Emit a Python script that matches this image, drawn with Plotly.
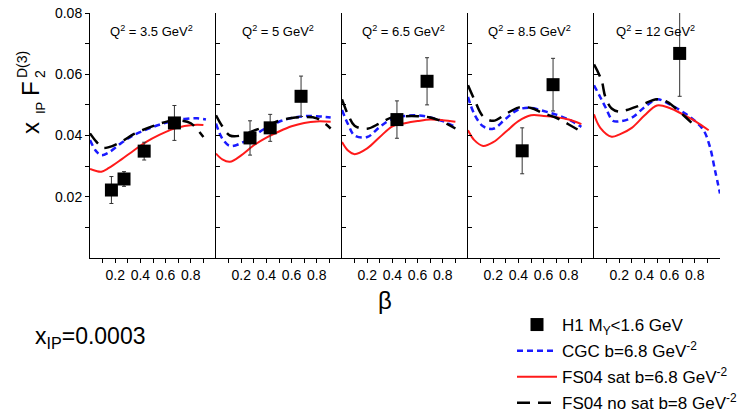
import plotly.graph_objects as go

# The page body has an 8px default margin; lay out in reference pixel coordinates
W, H = 754, 419
OFF = 8
WF, HF = W - OFF, H - OFF
FONT = "Liberation Sans, Arial, sans-serif"


def fx(x):
    return (x - OFF) / WF


def fy(y):
    return 1 - (y - OFF) / HF


q2_labels = ["3.5", "5", "6.5", "8.5", "12"]

# H1 data points per panel
h1_beta = [[0.17, 0.27, 0.43, 0.67], [0.27, 0.43, 0.675], [0.436, 0.675], [0.43, 0.675], [0.68]]
h1_val = [[0.0222, 0.0258, 0.0349, 0.0441], [0.0392, 0.0425, 0.0528], [0.0452, 0.0577], [0.0350, 0.0566], [0.0668]]
h1_err = [[0.0044, 0.0024, 0.0029, 0.0057], [0.0056, 0.0044, 0.0066], [0.0061, 0.0077], [0.0075, 0.0086], [0.0140]]

# CGC b=6.8 (blue dashed)
cgc_beta = [
    [0.0, 0.05, 0.09, 0.15, 0.25, 0.35, 0.45, 0.55, 0.65, 0.75, 0.85, 0.92],
    [0.0, 0.05, 0.11, 0.2, 0.3, 0.4, 0.5, 0.6, 0.7, 0.8, 0.91],
    [0.0, 0.05, 0.1, 0.2, 0.3, 0.4, 0.5, 0.6, 0.7, 0.8, 0.9],
    [0.0, 0.05, 0.12, 0.2, 0.3, 0.4, 0.5, 0.6, 0.7, 0.8, 0.9],
    [0.0, 0.05, 0.09, 0.15, 0.2, 0.3, 0.4, 0.5, 0.6, 0.7, 0.8, 0.87, 0.92, 0.96, 1.0],
]
cgc_val = [
    [0.0385, 0.0348, 0.0336, 0.0345, 0.0376, 0.0402, 0.0420, 0.0435, 0.0447, 0.0454, 0.0456, 0.0452],
    [0.0439, 0.0390, 0.0366, 0.0375, 0.0400, 0.0425, 0.0445, 0.0457, 0.0463, 0.0463, 0.0459],
    [0.0483, 0.0435, 0.0400, 0.0395, 0.0428, 0.0455, 0.0464, 0.0466, 0.0459, 0.0447, 0.0428],
    [0.0526, 0.0470, 0.0430, 0.0422, 0.0455, 0.0485, 0.0490, 0.0480, 0.0468, 0.0452, 0.0428],
    [0.0564, 0.0525, 0.0493, 0.0448, 0.0446, 0.0458, 0.0492, 0.0518, 0.0502, 0.0478, 0.0448, 0.0417, 0.0363, 0.0287, 0.0211],
]

# FS04 sat b=6.8 (red solid)
sat_beta = [
    [0.0, 0.05, 0.09, 0.15, 0.25, 0.35, 0.45, 0.55, 0.65, 0.75, 0.85, 0.9],
    [0.0, 0.05, 0.11, 0.2, 0.3, 0.4, 0.5, 0.6, 0.7, 0.8, 0.91],
    [0.0, 0.05, 0.1, 0.2, 0.3, 0.4, 0.5, 0.6, 0.7, 0.8, 0.9],
    [0.0, 0.05, 0.12, 0.2, 0.3, 0.4, 0.5, 0.6, 0.7, 0.8, 0.9],
    [0.0, 0.05, 0.14, 0.2, 0.3, 0.4, 0.5, 0.6, 0.7, 0.8, 0.91],
]
sat_val = [
    [0.0291, 0.0284, 0.0282, 0.0294, 0.0322, 0.0352, 0.0380, 0.0402, 0.0420, 0.0431, 0.0435, 0.0434],
    [0.0341, 0.0322, 0.0314, 0.0335, 0.0368, 0.0393, 0.0413, 0.0430, 0.0441, 0.0446, 0.0445],
    [0.0379, 0.0350, 0.0339, 0.0358, 0.0395, 0.0430, 0.0440, 0.0447, 0.0452, 0.0450, 0.0445],
    [0.0417, 0.0385, 0.0366, 0.0378, 0.0412, 0.0447, 0.0466, 0.0464, 0.0460, 0.0452, 0.0437],
    [0.0469, 0.0425, 0.0396, 0.0403, 0.0425, 0.0465, 0.0498, 0.0490, 0.0470, 0.0448, 0.0417],
]

# FS04 no sat b=8 (black long dash)
nosat_beta = [
    [0.0, 0.05, 0.1, 0.15, 0.25, 0.35, 0.45, 0.55, 0.65, 0.72, 0.8, 0.9],
    [0.0, 0.05, 0.11, 0.2, 0.3, 0.4, 0.5, 0.6, 0.7, 0.8, 0.91],
    [0.0, 0.05, 0.1, 0.2, 0.3, 0.4, 0.5, 0.6, 0.7, 0.8, 0.9],
    [0.0, 0.05, 0.12, 0.2, 0.3, 0.4, 0.5, 0.6, 0.7, 0.8, 0.9],
    [0.0, 0.06, 0.09, 0.14, 0.2, 0.26, 0.37, 0.5, 0.58, 0.71, 0.82],
]
nosat_val = [
    [0.0407, 0.0380, 0.0360, 0.0362, 0.0380, 0.0405, 0.0423, 0.0438, 0.0449, 0.0449, 0.0440, 0.0395],
    [0.0466, 0.0430, 0.0400, 0.0400, 0.0416, 0.0430, 0.0448, 0.0457, 0.0460, 0.0456, 0.0423],
    [0.0518, 0.0466, 0.0432, 0.0422, 0.0440, 0.0460, 0.0463, 0.0463, 0.0459, 0.0445, 0.0423],
    [0.0564, 0.0518, 0.0462, 0.0448, 0.0470, 0.0491, 0.0490, 0.0472, 0.0458, 0.0436, 0.0412],
    [0.0632, 0.0580, 0.0526, 0.0488, 0.0478, 0.0483, 0.0499, 0.0518, 0.0510, 0.0466, 0.0423],
]

x_tickvals = [0.1, 0.2, 0.3, 0.4, 0.5, 0.6, 0.7, 0.8, 0.9]
x_ticktext = ["", "0.2", "", "0.4", "", "0.6", "", "0.8", ""]
y_tickvals = [0.01, 0.02, 0.03, 0.04, 0.05, 0.06, 0.07, 0.08]
y_ticktext = ["", "0.02", "", "0.04", "", "0.06", "", "0.08"]

legend_names = ["H1 M<sub>Y</sub>&lt;1.6 GeV", "CGC b=6.8 GeV<sup>-2</sup>",
                "FS04 sat b=6.8 GeV<sup>-2</sup>", "FS04 no sat b=8 GeV<sup>-2</sup>"]

# layout geometry (reference pixels)
left0, pw = 90, 126
top_px, bot_px = 13, 258

fig = go.Figure()
layout = dict(
    width=WF, height=HF, margin=dict(l=0, r=0, t=0, b=0, autoexpand=False),
    paper_bgcolor="white", plot_bgcolor="white",
    font=dict(family=FONT, color="black"),
    showlegend=True,
    legend=dict(x=fx(512), y=fy(307), xanchor="left", yanchor="top",
                font=dict(size=17, family=FONT), bgcolor="rgba(0,0,0,0)",
                tracegroupgap=1, itemwidth=40),
)
annotations = []

for i in range(5):
    n = "" if i == 0 else str(i + 1)
    xa, ya = "x" + n, "y" + n
    layout["xaxis" + n] = dict(
        domain=[fx(left0 + pw * i), fx(left0 + pw * (i + 1))], range=[0, 1.0], anchor=ya,
        showline=True, linecolor="black", linewidth=1, showgrid=False, zeroline=False,
        ticks="outside", ticklen=4, tickcolor="black",
        tickvals=x_tickvals, ticktext=x_ticktext,
        tickfont=dict(size=14, family=FONT), ticklabeloverflow="allow",
    )
    yax = dict(
        domain=[fy(bot_px), fy(top_px)], range=[0, 0.08], anchor=xa,
        showline=True, linecolor="black", linewidth=1, showgrid=False, zeroline=False,
        tickvals=y_tickvals, tickcolor="black", ticklen=4, ticklabeloverflow="allow",
    )
    if i == 0:
        yax.update(ticks="outside", ticktext=y_ticktext, tickfont=dict(size=14, family=FONT))
    else:
        yax.update(ticks="inside", showticklabels=False)
    layout["yaxis" + n] = yax

    sl = (i == 0)
    fig.add_trace(go.Scatter(
        x=cgc_beta[i], y=cgc_val[i], mode="lines", line_shape="spline",
        line=dict(color="#1a1aff", width=2.5, dash="6px,4px"),
        xaxis=xa, yaxis=ya, name=legend_names[1], showlegend=sl, legendgroup="cgc",
        legendrank=2))
    fig.add_trace(go.Scatter(
        x=sat_beta[i], y=sat_val[i], mode="lines", line_shape="spline",
        line=dict(color="#ff1a1a", width=2),
        xaxis=xa, yaxis=ya, name=legend_names[2], showlegend=sl, legendgroup="sat",
        legendrank=3))
    fig.add_trace(go.Scatter(
        x=nosat_beta[i], y=nosat_val[i], mode="lines", line_shape="spline",
        line=dict(color="black", width=2.5, dash="13px,8px"),
        xaxis=xa, yaxis=ya, name=legend_names[3], showlegend=sl, legendgroup="nosat",
        legendrank=4))
    fig.add_trace(go.Scatter(
        x=h1_beta[i], y=h1_val[i], mode="markers",
        marker=dict(symbol="square", size=13, color="black"),
        error_y=dict(type="data", array=h1_err[i], color="#333333", thickness=1, width=2),
        xaxis=xa, yaxis=ya, name=legend_names[0], showlegend=sl, legendgroup="h1",
        legendrank=1))

    annotations.append(dict(
        xref=xa + " domain", yref="paper", x=0.49, y=fy(31),
        text="Q<sup>2</sup> = " + q2_labels[i] + " GeV<sup>2</sup>",
        showarrow=False, font=dict(size=13, family=FONT), xanchor="center", yanchor="middle"))

# y-axis title pieces (rotated)
for txt, px, py, sz in [("x", 31, 128, 24), ("IP", 40, 108, 13), ("F", 31, 89, 24),
                        ("2", 40, 74, 14), ("D(3)", 22, 64, 14)]:
    annotations.append(dict(xref="paper", yref="paper", x=fx(px), y=fy(py), text=txt,
                            textangle=-90, showarrow=False, font=dict(size=sz, family=FONT),
                            xanchor="center", yanchor="middle"))

annotations.append(dict(xref="paper", yref="paper", x=fx(385), y=fy(300), text="β",
                        showarrow=False, font=dict(size=24, family=FONT),
                        xanchor="center", yanchor="middle"))
annotations.append(dict(xref="paper", yref="paper", x=fx(33), y=fy(337),
                        text="x<sub>IP</sub>=0.0003",
                        showarrow=False, font=dict(size=23, family=FONT),
                        xanchor="left", yanchor="middle"))

layout["annotations"] = annotations
fig.update_layout(**layout)
fig.write_html("out.html")
